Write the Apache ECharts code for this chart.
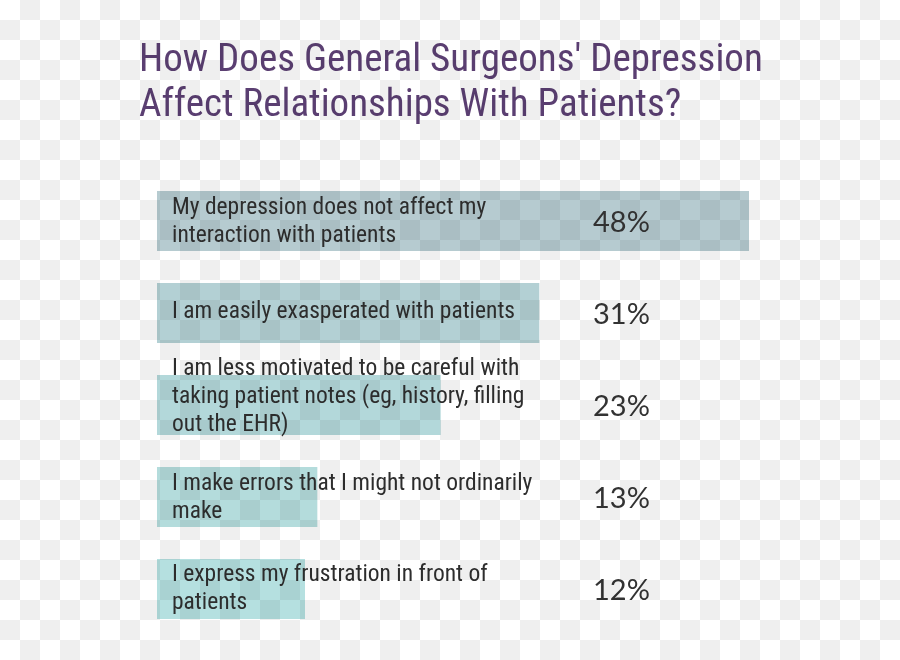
<!DOCTYPE html>
<html>
<head>
<meta charset="utf-8">
<script src="https://cdn.jsdelivr.net/npm/echarts@6/dist/echarts.min.js"></script>
<style>
  html, body { margin: 0; padding: 0; background: #fff; }
  #wrap { position: relative; width: 900px; height: 660px; }
  #chart { position: absolute; left: 0; top: 0; width: 900px; height: 660px; }
  #checker {
    position: absolute; left: 0; top: 0; width: 900px; height: 660px;
    pointer-events: none; mix-blend-mode: multiply;
    background-color: #fff;
    background-image: conic-gradient(#efefef 25%, #fff 0 50%, #efefef 0 75%, #fff 0);
    background-size: 40px 40px;
    background-position: 0 0;
  }
</style>
</head>
<body>
<div id="wrap">
  <div id="chart"></div>
  <div id="checker"></div>
</div>
<script>
const titleText = "How Does General Surgeons' Depression\nAffect Relationships With Patients?";
const categories = [
  "My depression does not affect my\ninteraction with patients",
  "I am easily exasperated with patients",
  "I am less motivated to be careful with\ntaking patient notes (eg, history, filling\nout the EHR)",
  "I make errors that I might not ordinarily\nmake",
  "I express my frustration in front of\npatients"
];
const values = [48, 31, 23, 13, 12];
const barColors = ["#b6cbd0", "#b3d0d4", "#b3d8da", "#b4dcdc", "#b5e0e0"];
const labelOffsets = [1, -1, -8, 1, 0];

const condensed = "'Roboto Condensed', 'Liberation Sans Narrow', 'DejaVu Sans Condensed', Roboto, sans-serif";

const chart = echarts.init(document.getElementById('chart'), null, { renderer: 'canvas' });
chart.setOption({
  backgroundColor: '#ffffff',
  animation: false,
  title: {
    text: titleText,
    left: 134,
    top: 34,
    textStyle: {
      color: '#5b3f72',
      fontFamily: condensed,
      fontWeight: 'normal',
      fontSize: 39,
      lineHeight: 45
    }
  },
  grid: { left: 157, right: 151, top: 175, bottom: 25, containLabel: false },
  xAxis: { type: 'value', min: 0, max: 48, show: false },
  yAxis: {
    type: 'category', data: categories, inverse: true, show: false
  },
  series: [
    {
      type: 'bar',
      barWidth: 60,
      data: values.map((v, i) => ({
        value: v,
        itemStyle: { color: barColors[i] },
        label: { offset: [0, labelOffsets[i]] }
      })),
      label: {
        show: true,
        position: 'insideLeft',
        distance: 15,
        formatter: p => categories[p.dataIndex],
        color: '#2e2e2e',
        fontFamily: condensed,
        fontSize: 23.5,
        lineHeight: 28
      },
      z: 2
    },
    {
      type: 'bar',
      barWidth: 60,
      barGap: '-100%',
      data: values,
      itemStyle: { color: 'rgba(0,0,0,0)' },
      label: {
        show: true,
        position: [436, '50%'],
        offset: [0, 2],
        verticalAlign: 'middle',
        align: 'left',
        formatter: p => p.value + '%',
        color: '#333333',
        fontFamily: "Lato, 'Open Sans', sans-serif",
        fontWeight: 'normal',
        fontSize: 29
      },
      silent: true,
      z: 3
    }
  ]
});
</script>
</body>
</html>
